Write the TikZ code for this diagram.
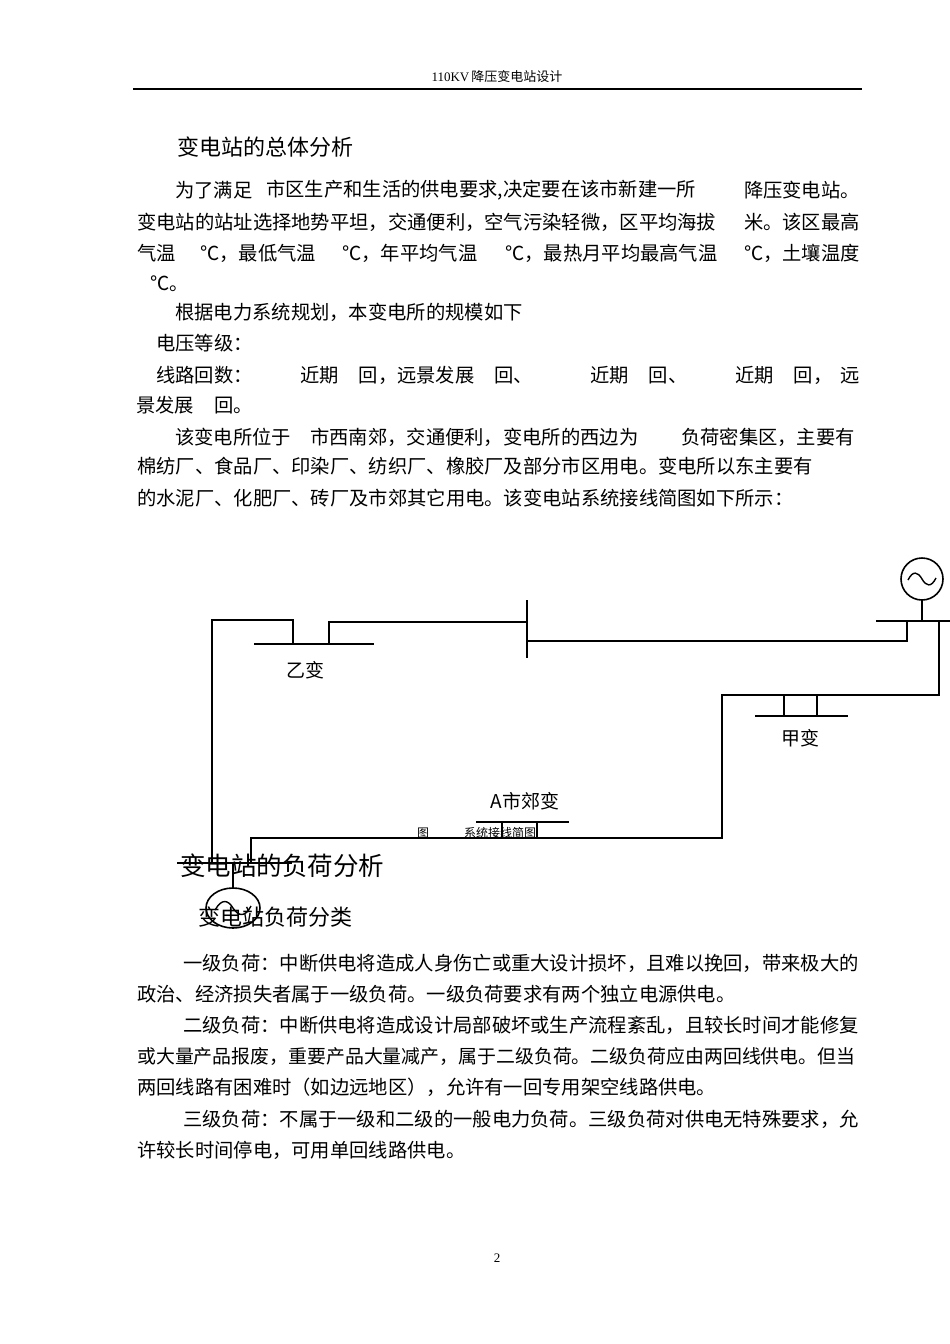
\documentclass[tikz,border=0pt]{standalone}
\usepackage{fontspec}
\usetikzlibrary{shapes.geometric}
\setmainfont{Liberation Serif}
\newfontfamily\cjk{Noto Sans CJK SC}
\begin{document}
\begin{tikzpicture}[x=1pt,y=-1pt,
  body/.style={anchor=west,inner sep=0pt,font=\cjk\fontsize{19.3}{20}\selectfont},
  bodye/.style={body,anchor=east},
  wire/.style={line width=2.4pt,line join=miter},
  lbl/.style={inner sep=0pt,font=\cjk\fontsize{19}{20}\selectfont}]
\useasboundingbox[fill=white] (0,0) rectangle (950,1344);
% header
\node[inner sep=0pt,font=\fontsize{13}{14}\selectfont] (hdr) at (497,77) {110KV\,{\cjk 降压变电站设计}};
\draw[line width=1.6pt] (133,89) -- (862,89);
\node[body,font=\cjk\fontsize{22}{23}\selectfont] (h1) at (177,147) {变电站的总体分析};
% paragraph 1
\node[body] (p1a) at (175,190) {为了满足};
\node[body] (p1b) at (266,190) {市区生产和生活的供电要求,决定要在该市新建一所};
\node[bodye] (p1c) at (860,190) {降压变电站。};
\node[body] (p2a) at (137,222) {变电站的站址选择地势平坦，交通便利，空气污染轻微，区平均海拔};
\node[bodye] (p2b) at (860,222) {米。该区最高};
\node[body] (p3a) at (137,253) {气温};
\node[body] (p3b) at (200,253) {℃，最低气温};
\node[body] (p3c) at (342,253) {℃，年平均气温};
\node[body] (p3d) at (505,253) {℃，最热月平均最高气温};
\node[bodye] (p3e) at (860,253) {℃，土壤温度};
\node[body] (p4) at (150,284) {℃。};
\node[body] (p5) at (175,312) {根据电力系统规划，本变电所的规模如下};
\node[body] (p6) at (156,343) {电压等级：};
\node[body] (p7a) at (156,375) {线路回数：};
\node[body] (p7b) at (300,375) {近期\hspace{20pt}回，远景发展\hspace{20pt}回、};
\node[body] (p7c) at (590,375) {近期\hspace{20pt}回、};
\node[bodye] (p7d) at (860,375) {近期\hspace{20pt}回，\hspace{8pt}远};
\node[body] (p8) at (136,405) {景发展\hspace{20pt}回。};
\node[body] (p9a) at (175,437) {该变电所位于};
\node[body] (p9b) at (310,437) {市西南郊，交通便利，变电所的西边为};
\node[bodye] (p9c) at (855,437) {负荷密集区，主要有};
\node[body] (p10) at (137,466) {棉纺厂、食品厂、印染厂、纺织厂、橡胶厂及部分市区用电。变电所以东主要有};
\node[body] (p11) at (137,498) {的水泥厂、化肥厂、砖厂及市郊其它用电。该变电站系统接线简图如下所示：};
% diagram
\draw[wire] (212,863) -- (212,620) -- (293,620) -- (293,644);
\draw[wire] (254,644) -- (374,644);
\draw[wire] (329,644) -- (329,622) -- (527,622);
\draw[wire] (527,600) -- (527,658);
\draw[wire] (527,641) -- (907,641) -- (907,621);
\draw[wire] (876,621) -- (950,621);
\draw[wire] (922,600) -- (922,621);
\node[draw,line width=1.6pt,circle,minimum size=42pt,inner sep=0pt] (g1) at (922,579) {};
\draw[line width=1.4pt] (908,580) .. controls (913,570) and (918,572) .. (922,579) .. controls (926,586) and (931,588) .. (936,578);
\draw[wire] (939,621) -- (939,695) -- (784,695) -- (784,716);
\draw[wire] (755,716) -- (848,716);
\draw[wire] (817,716) -- (817,695);
\draw[wire] (817,695) -- (722,695) -- (722,838) -- (251,838) -- (251,863);
\draw[wire] (476,822) -- (569,822);
\draw[wire] (502,822) -- (502,838);
\draw[wire] (537,822) -- (537,838);
\draw[wire] (177,863) -- (292,863);
\draw[wire] (233,863) -- (233,888);
\node[draw,line width=1.6pt,ellipse,minimum width=54pt,minimum height=40pt,inner sep=0pt] (g2) at (233,908) {};
\draw[line width=1.4pt] (215,910) .. controls (222,898) and (228,900) .. (233,908) .. controls (238,916) and (245,918) .. (251,906);
\node[lbl] (yb) at (305,670) {乙变};
\node[lbl] (jb) at (800,738) {甲变};
\node[lbl] (asj) at (525,801) {A市郊变};
\node[inner sep=0pt,font=\cjk\fontsize{12}{13}\selectfont] (cap1) at (423,833) {图};
\node[inner sep=0pt,font=\cjk\fontsize{12}{13}\selectfont] (cap2) at (500,833) {系统接线简图};
% section 2
\node[body,font=\cjk\fontsize{25.5}{26}\selectfont] (h2) at (180,866) {变电站的负荷分析};
\node[body,font=\cjk\fontsize{22}{23}\selectfont] (h3) at (198,917) {变电站负荷分类};
\node[body] (q1) at (183,963) {一级负荷：中断供电将造成人身伤亡或重大设计损坏，且难以挽回，带来极大的};
\node[body] (q2) at (137,994) {政治、经济损失者属于一级负荷。一级负荷要求有两个独立电源供电。};
\node[body] (q3) at (183,1025) {二级负荷：中断供电将造成设计局部破坏或生产流程紊乱，且较长时间才能修复};
\node[body,font=\cjk\fontsize{18.9}{20}\selectfont] (q4) at (137,1056) {或大量产品报废，重要产品大量减产，属于二级负荷。二级负荷应由两回线供电。但当};
\node[body] (q5) at (137,1087) {两回线路有困难时（如边远地区），允许有一回专用架空线路供电。};
\node[body] (q6) at (183,1119) {三级负荷：不属于一级和二级的一般电力负荷。三级负荷对供电无特殊要求，允};
\node[body] (q7) at (137,1150) {许较长时间停电，可用单回线路供电。};
\node[inner sep=0pt,font=\fontsize{13}{14}\selectfont] (pg) at (497,1258) {2};
\end{tikzpicture}
\end{document}
